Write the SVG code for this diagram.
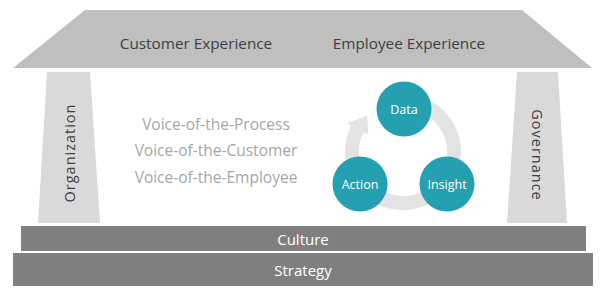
<svg xmlns="http://www.w3.org/2000/svg" width="609" height="299" viewBox="0 0 609 299">
<style>
  text { font-family: "Open Sans", "Noto Sans", "DejaVu Sans", sans-serif; text-anchor: middle; dominant-baseline: central; }
  .dark { fill: #404040; font-size: 15.3px; }
  .side { fill: #404040; font-size: 14.5px; }
  .voice { fill: #a6a6a6; font-size: 15.5px; }
  .white { fill: #ffffff; font-size: 15px; }
  .cyc { fill: #ffffff; font-size: 12.5px; }
  .pillar { fill: #d9d9d9; }
  .bar { fill: #7f7f7f; }
  .node { fill: #24a0b1; }
</style>
<rect width="609" height="299" fill="#ffffff"/>
<g id="roof">
  <polygon points="85,10 522,10 592,68 13,68" fill="#bfbfbf"/>
  <text class="dark" x="196" y="43">Customer Experience</text>
  <text class="dark" x="409" y="43">Employee Experience</text>
</g>
<g id="organization">
  <polygon class="pillar" points="47,72 90,72 100,223 38,223"/>
  <text class="side" x="0" y="0" transform="translate(69,153) rotate(-90)" letter-spacing="1">Organization</text>
</g>
<g id="governance">
  <polygon class="pillar" points="517,72 558,72 567,223 507,223"/>
  <text class="side" x="0" y="0" transform="translate(537,155) rotate(90)" letter-spacing="1">Governance</text>
</g>
<g id="voices">
  <text class="voice" x="216" y="124">Voice-of-the-Process</text>
  <text class="voice" x="216" y="150">Voice-of-the-Customer</text>
  <text class="voice" x="216" y="177">Voice-of-the-Employee</text>
</g>
<g id="connectors">
  <path d="M403,101 A51,51 0 1 1 357.6,128.8" fill="none" stroke="#e3e3e3" stroke-width="14"/>
  <polygon points="346.9,123.4 368.3,134.2 367,115.5" fill="#e3e3e3"/>
</g>
<g id="data">
  <circle class="node" cx="404" cy="109" r="27.5"/>
  <text class="cyc" x="404" y="109">Data</text>
</g>
<g id="insight">
  <circle class="node" cx="447" cy="184" r="27.5"/>
  <text class="cyc" x="447" y="184">Insight</text>
</g>
<g id="action">
  <circle class="node" cx="360" cy="184" r="27.5"/>
  <text class="cyc" x="360" y="184">Action</text>
</g>
<g id="culture">
  <rect class="bar" x="21" y="226" width="565" height="25"/>
  <text class="white" x="303" y="239">Culture</text>
</g>
<g id="strategy">
  <rect class="bar" x="13" y="253" width="580" height="33"/>
  <text class="white" x="303" y="270">Strategy</text>
</g>
</svg>
